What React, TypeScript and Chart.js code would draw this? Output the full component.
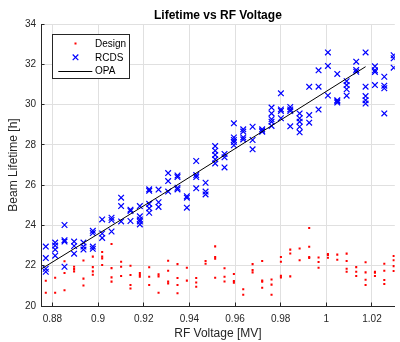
import React, { useEffect, useRef } from 'react';
import { Chart, registerables } from 'chart.js';

Chart.register(...registerables);

const titleText = 'Lifetime vs RF Voltage';
const xAxisTitle = 'RF Voltage [MV]';
const yAxisTitle = 'Beam Lifetime [h]';
const seriesNames = ['Design', 'RCDS', 'OPA'];

const xTicks = [0.88, 0.9, 0.92, 0.94, 0.96, 0.98, 1.0, 1.02];
const xTickLabels = ['0.88', '0.9', '0.92', '0.94', '0.96', '0.98', '1', '1.02'];
const yTicks = [20, 22, 24, 26, 28, 30, 32, 34];
const yTickLabels = ['20', '22', '24', '26', '28', '30', '32', '34'];

const voltages = [
  0.8771, 0.8812, 0.8853, 0.8895, 0.8936, 0.8977, 0.9018, 0.9059, 0.9101, 0.9142,
  0.9183, 0.9224, 0.9265, 0.9307, 0.9348, 0.9389, 0.943, 0.9471, 0.9513, 0.9554,
  0.9595, 0.9636, 0.9677, 0.9719, 0.976, 0.9801, 0.9842, 0.9883, 0.9925, 0.9966,
  1.0007, 1.0048, 1.0089, 1.0131, 1.0172, 1.0213, 1.0254, 1.0295,
];

const designLifetime = [
  [21.25, 20.66], [21.4, 20.66], [22.22, 21.64, 20.78], [21.95, 21.84, 21.72],
  [22.26, 21.36, 21.02], [22.45, 21.93, 21.72, 21.55], [22.68, 22.45, 22.36, 22.04],
  [23.08, 21.88, 21.42, 21.21], [22.2, 21.95, 21.49], [22.0, 21.54, 21.04, 20.87],
  [21.64, 21.54, 21.45], [21.92, 21.45, 21.04], [21.57, 21.47, 20.66],
  [22.25, 21.75, 21.21, 21.12], [22.08, 21.39, 21.04, 20.63], [21.9, 21.26],
  [21.39, 21.17, 20.96], [22.23, 22.1], [22.96, 22.43, 22.35, 21.4],
  [21.87, 21.45, 21.22], [21.59, 21.24, 21.16], [20.83, 20.56], [22.08, 21.79, 21.67],
  [22.23, 21.26, 21.21, 20.91], [21.32, 21.06, 20.56], [22.43, 22.2, 21.5, 21.42],
  [22.8, 22.61, 21.47], [22.85, 22.27], [23.87, 22.94, 22.43, 22.38],
  [22.41, 22.18, 21.9], [22.58, 22.53, 22.4], [22.55, 22.3], [22.6, 22.23, 21.85, 21.7],
  [21.93, 21.7, 21.49], [22.17, 21.67, 21.3, 21.04], [21.7, 21.65, 21.49],
  [22.1, 21.75, 21.29, 21.09], [22.48, 22.27, 21.98, 21.74],
];

const rcdsLifetime = [
  [22.95, 22.38, 21.85, 21.7], [23.15, 23.0, 22.8, 22.5], [24.02, 23.27, 23.2, 21.95],
  [23.2, 22.98, 22.6], [23.15, 22.95, 22.8], [23.73, 23.62, 22.95, 22.84],
  [24.3, 23.6, 23.38], [24.38, 24.27, 23.7], [25.38, 24.96, 24.2], [24.78, 24.72, 24.22],
  [24.96, 24.45, 24.3, 24.2, 24.05], [25.79, 25.72, 25.07, 24.85, 24.63],
  [25.78, 25.15, 24.92], [26.6, 26.2, 25.68], [26.48, 26.4, 25.87, 25.79],
  [25.45, 25.38, 24.88], [27.2, 26.5, 26.4, 25.84], [26.12, 25.68, 25.54],
  [27.94, 27.71, 27.5, 27.28, 27.08], [27.55, 27.38, 26.88],
  [29.07, 28.37, 28.24, 28.14, 27.98], [28.77, 28.66, 28.37, 28.27], [28.9, 28.24, 27.78],
  [28.77, 28.7, 28.65], [29.85, 29.56, 29.27, 29.15, 28.94], [30.56, 29.76, 29.68, 29.32],
  [29.88, 29.76, 29.68, 28.92], [29.56, 29.32, 29.15, 28.9, 28.62], [30.88, 29.48, 29.1],
  [31.7, 30.89, 29.75], [32.59, 31.92, 30.45], [31.52, 30.22, 30.16, 30.1],
  [31.16, 30.97, 30.76, 30.44], [32.13, 31.72, 31.63], [32.59, 30.89, 30.42, 30.22, 30.05],
  [31.9, 31.7, 31.62, 30.97], [31.38, 30.94, 30.81, 29.56], [32.45, 32.3, 31.83],
];

const opaVoltage = [0.875, 0.9271, 0.9784, 1.0172];
const opaLifetime = [21.83, 25.47, 29.12, 31.88];

const FONT = '"Liberation Sans", Arial, Helvetica, sans-serif';
const AXIS = '#262626';
const GRID = '#e0e0e0';
const BLUE = '#0000ff';
const RED = '#ff0000';

const decorPlugin = {
  id: 'decor',
  afterDraw(chart: any) {
    const { ctx, chartArea: a, scales } = chart;
    const x = scales.x;
    const y = scales.y;
    ctx.save();
    // inward tick marks
    ctx.strokeStyle = AXIS;
    ctx.lineWidth = 1;
    ctx.beginPath();
    x.ticks.forEach((t: any) => {
      const p = Math.round(x.getPixelForValue(t.value) - 0.5) + 0.5;
      ctx.moveTo(p, a.bottom);
      ctx.lineTo(p, a.bottom - 3.5);
    });
    y.ticks.forEach((t: any) => {
      const p = Math.round(y.getPixelForValue(t.value) - 0.5) + 0.5;
      ctx.moveTo(a.left, p);
      ctx.lineTo(a.left + 3.5, p);
    });
    ctx.stroke();

    // title centred on the plot area
    ctx.fillStyle = '#000';
    ctx.font = `bold 12px ${FONT}`;
    ctx.textAlign = 'center';
    ctx.textBaseline = 'middle';
    ctx.fillText(titleText, (a.left + a.right) / 2, a.top - 8.7);

    // legend box
    const bx = Math.round(a.left + 11) + 0.5;
    const by = Math.round(a.top + 10) + 0.5;
    const bw = 77;
    const bh = 44;
    ctx.fillStyle = '#fff';
    ctx.fillRect(bx, by, bw, bh);
    ctx.strokeStyle = AXIS;
    ctx.lineWidth = 1;
    ctx.strokeRect(bx, by, bw, bh);

    const rows = [by + 9, by + 22.8, by + 36.5];
    const mx = bx + 23;
    // Design marker
    ctx.fillStyle = RED;
    ctx.fillRect(mx - 1, rows[0] - 1, 2, 2);
    // RCDS marker
    ctx.strokeStyle = BLUE;
    ctx.lineWidth = 1.2;
    ctx.beginPath();
    const h = 2.8;
    ctx.moveTo(mx - h, rows[1] - h);
    ctx.lineTo(mx + h, rows[1] + h);
    ctx.moveTo(mx - h, rows[1] + h);
    ctx.lineTo(mx + h, rows[1] - h);
    ctx.stroke();
    // OPA line
    ctx.strokeStyle = '#000';
    ctx.lineWidth = 1;
    ctx.beginPath();
    ctx.moveTo(bx + 5.8, Math.round(rows[2]) + 0.5);
    ctx.lineTo(bx + 39.8, Math.round(rows[2]) + 0.5);
    ctx.stroke();

    ctx.fillStyle = '#000';
    ctx.font = `10px ${FONT}`;
    ctx.textAlign = 'left';
    ctx.textBaseline = 'middle';
    seriesNames.forEach((n, i) => ctx.fillText(n, bx + 42.5, rows[i] + 0.5));
    ctx.restore();
  },
};

export default function App() {
  const ref = useRef<HTMLCanvasElement>(null);

  useEffect(() => {
    if (!ref.current) return;
    const designData = voltages.flatMap((v, i) => designLifetime[i].map((l) => ({ x: v, y: l })));
    const rcdsData = voltages.flatMap((v, i) => rcdsLifetime[i].map((l) => ({ x: v, y: l })));
    const opaData = opaVoltage.map((v, i) => ({ x: v, y: opaLifetime[i] }));

    const chart = new Chart(ref.current, {
      type: 'scatter',
      data: {
        datasets: [
          {
            label: seriesNames[0],
            data: designData,
            pointStyle: 'rect',
            pointRadius: 1.45,
            pointBorderWidth: 0,
            backgroundColor: RED,
            borderColor: RED,
            order: 2,
          },
          {
            label: seriesNames[1],
            data: rcdsData,
            pointStyle: 'crossRot',
            pointRadius: 4,
            pointBorderWidth: 1.2,
            borderColor: BLUE,
            backgroundColor: BLUE,
            order: 1,
          },
          {
            label: seriesNames[2],
            data: opaData,
            showLine: true,
            pointRadius: 0,
            borderColor: '#000',
            borderWidth: 1,
            backgroundColor: '#000',
            order: 0,
          },
        ],
      } as any,
      options: {
        responsive: false,
        maintainAspectRatio: false,
        animation: false,
        devicePixelRatio: 1,
        layout: { padding: { top: 24, left: 0, right: 0, bottom: 0 } },
        plugins: {
          legend: { display: false },
          tooltip: { enabled: false },
          title: { display: false },
        },
        scales: {
          x: {
            type: 'linear',
            min: 0.875,
            max: 1.03,
            afterBuildTicks: (s: any) => {
              s.ticks = xTicks.map((v) => ({ value: v }));
            },
            afterFit: (s: any) => {
              s.height = 36;
            },
            ticks: {
              color: AXIS,
              font: { family: FONT, size: 10 },
              padding: 7,
              maxRotation: 0,
              callback: (v: any) => {
                const i = xTicks.findIndex((t) => Math.abs(t - v) < 1e-9);
                return i >= 0 ? xTickLabels[i] : '';
              },
            },
            grid: { color: GRID, drawTicks: false, lineWidth: 1 },
            border: { display: true, color: AXIS, width: 1 },
            title: {
              display: true,
              text: xAxisTitle,
              color: AXIS,
              font: { family: FONT, size: 12 },
              padding: { top: 0, bottom: 1 },
            },
          },
          y: {
            type: 'linear',
            min: 20,
            max: 34,
            afterBuildTicks: (s: any) => {
              s.ticks = yTicks.map((v) => ({ value: v }));
            },
            afterFit: (s: any) => {
              s.width = 41;
            },
            ticks: {
              color: AXIS,
              font: { family: FONT, size: 10 },
              padding: 5,
              callback: (v: any) => {
                const i = yTicks.findIndex((t) => Math.abs(t - v) < 1e-9);
                return i >= 0 ? yTickLabels[i] : '';
              },
            },
            grid: { color: GRID, drawTicks: false, lineWidth: 1 },
            border: { display: true, color: AXIS, width: 1 },
            title: {
              display: true,
              text: yAxisTitle,
              color: AXIS,
              font: { family: FONT, size: 12 },
              padding: { top: 6, bottom: 0 },
            },
          },
        },
      } as any,
      plugins: [decorPlugin],
    });
    return () => chart.destroy();
  }, []);

  return (
    <div style={{ position: 'fixed', left: 0, top: 0, width: 400, height: 342, background: '#fff' }}>
      <canvas ref={ref} width={400} height={342} style={{ width: 400, height: 342, display: 'block' }} />
    </div>
  );
}
